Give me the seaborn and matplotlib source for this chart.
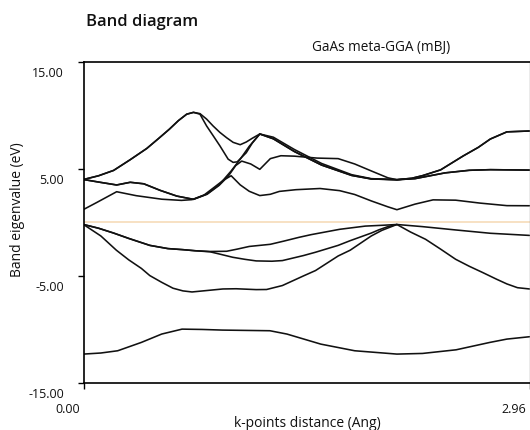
import numpy as np
import pandas as pd
import matplotlib
matplotlib.use("Agg")
import matplotlib.pyplot as plt
import seaborn as sns
from matplotlib.transforms import ScaledTranslation

# ---------------- data ----------------
title = "Band diagram"
subtitle = "GaAs meta-GGA (mBJ)"
x_label = "k-points distance (Ang)"
y_label = "Band eigenvalue (eV)"
x_ticks = [0.0, 2.96]
x_tick_labels = ["0.00", "2.96"]
y_ticks = [15, 5, -5, -15]
y_tick_labels = ["15.00", "5.00", "-5.00", "-15.00"]
fermi_level = 0.0

# conduction bands
c1_k = [0, 0.09, 0.22, 0.35, 0.52, 0.65, 0.72, 0.80, 0.87, 0.93, 0.98, 1.04, 1.10, 1.17, 1.24, 1.30, 1.41, 1.57, 1.70, 1.80, 1.91, 2.02, 2.08, 2.20, 2.32, 2.47, 2.63, 2.81, 2.96]
c1_e = [1.2, 1.87, 2.86, 2.49, 2.16, 2.05, 2.12, 2.55, 3.3, 3.95, 4.35, 3.5, 2.9, 2.5, 2.62, 2.89, 3.05, 3.16, 2.96, 2.6, 2.0, 1.45, 1.18, 1.7, 2.1, 2.07, 1.8, 1.56, 1.55]

c2_k = [0, 0.11, 0.22, 0.31, 0.40, 0.51, 0.62, 0.73, 0.82, 0.90, 0.98, 1.04, 1.10, 1.17, 1.26, 1.40, 1.58, 1.78, 1.91, 2.08, 2.18, 2.25, 2.37, 2.52, 2.62, 2.70, 2.81, 2.96]
c2_e = [4.0, 3.74, 3.49, 3.74, 3.6, 2.98, 2.45, 2.15, 2.65, 3.5, 4.8, 5.9, 7.1, 8.25, 7.8, 6.62, 5.35, 4.38, 4.05, 3.98, 4.12, 4.36, 4.9, 6.2, 7.0, 7.78, 8.45, 8.53]

c3_k = [0, 0.11, 0.22, 0.31, 0.40, 0.51, 0.62, 0.73, 0.82, 0.90, 0.96, 1.01, 1.05, 1.11, 1.17, 1.24, 1.31, 1.40, 1.55, 1.69, 1.80, 1.91, 2.02, 2.08, 2.20, 2.40, 2.56, 2.70, 2.96]
c3_e = [4.0, 3.74, 3.49, 3.74, 3.6, 2.98, 2.45, 2.15, 2.62, 3.45, 4.3, 5.3, 5.72, 5.45, 4.95, 5.95, 6.22, 6.18, 6.0, 5.95, 5.45, 4.8, 4.16, 3.98, 4.08, 4.62, 4.86, 4.92, 4.88]

c4_k = [0, 0.10, 0.20, 0.31, 0.42, 0.50, 0.57, 0.63, 0.685, 0.73, 0.773, 0.817, 0.86, 0.905, 0.96, 0.993, 1.02, 1.08, 1.12, 1.17, 1.26, 1.40, 1.58, 1.78, 1.91, 2.08, 2.20, 2.40, 2.56, 2.70, 2.96]
c4_e = [4.0, 4.35, 4.85, 5.85, 6.9, 7.85, 8.7, 9.5, 10.1, 10.27, 10.1, 9.0, 8.1, 7.15, 5.9, 5.6, 5.65, 6.5, 7.4, 8.25, 7.8, 6.6, 5.35, 4.38, 4.05, 3.98, 4.08, 4.62, 4.86, 4.92, 4.88]

c5_k = [0, 0.10, 0.20, 0.31, 0.42, 0.50, 0.57, 0.63, 0.685, 0.73, 0.773, 0.817, 0.86, 0.905, 0.95, 0.993, 1.04, 1.08, 1.12, 1.17, 1.26, 1.40, 1.58, 1.78, 1.91, 2.08, 2.18, 2.25, 2.37, 2.52, 2.62, 2.70, 2.81, 2.96]
c5_e = [4.0, 4.35, 4.85, 5.85, 6.9, 7.85, 8.7, 9.5, 10.1, 10.27, 10.15, 9.64, 9.0, 8.4, 7.9, 7.47, 7.25, 7.5, 7.85, 8.25, 7.95, 6.8, 5.5, 4.45, 4.08, 3.98, 4.12, 4.36, 4.9, 6.2, 7.0, 7.78, 8.45, 8.53]

# valence bands
v1_k = [0, 0.10, 0.20, 0.30, 0.44, 0.56, 0.66, 0.74, 0.84, 0.95, 1.02, 1.10, 1.24, 1.33, 1.43, 1.51, 1.70, 1.87, 1.99, 2.08, 2.25, 2.47, 2.70, 2.96]
v1_e = [-0.2, -0.55, -1.0, -1.5, -2.15, -2.45, -2.55, -2.65, -2.72, -2.7, -2.5, -2.25, -2.05, -1.75, -1.4, -1.15, -0.65, -0.35, -0.27, -0.2, -0.4, -0.71, -1.02, -1.22]

v2_k = [0, 0.10, 0.20, 0.30, 0.44, 0.56, 0.66, 0.74, 0.84, 0.90, 0.99, 1.07, 1.146, 1.25, 1.32, 1.46, 1.54, 1.69, 1.77, 1.91, 1.96, 2.02, 2.08, 2.17, 2.27, 2.37, 2.47, 2.56, 2.65, 2.74, 2.81, 2.88, 2.96]
v2_e = [-0.2, -0.55, -1.0, -1.5, -2.15, -2.45, -2.55, -2.65, -2.75, -2.95, -3.26, -3.45, -3.6, -3.63, -3.57, -3.1, -2.79, -2.15, -1.71, -1.0, -0.7, -0.4, -0.2, -0.9, -1.58, -2.5, -3.45, -4.1, -4.69, -5.3, -5.75, -6.1, -6.22]

v3_k = [0, 0.115, 0.218, 0.30, 0.384, 0.44, 0.519, 0.594, 0.66, 0.72, 0.83, 0.925, 1.013, 1.146, 1.215, 1.32, 1.46, 1.54, 1.69, 1.77, 1.91, 1.98, 2.08]
v3_e = [-0.2, -1.27, -2.6, -3.5, -4.3, -4.97, -5.6, -6.15, -6.4, -6.5, -6.35, -6.22, -6.2, -6.28, -6.27, -5.9, -5.0, -4.5, -3.14, -2.6, -1.27, -0.75, -0.2]

v4_k = [0, 0.115, 0.227, 0.384, 0.519, 0.654, 0.788, 0.923, 1.237, 1.35, 1.575, 1.8, 2.08, 2.25, 2.473, 2.697, 2.81, 2.96]
v4_e = [-12.3, -12.2, -11.99, -11.21, -10.43, -9.97, -10.0, -10.06, -10.12, -10.43, -11.37, -11.99, -12.3, -12.24, -11.9, -11.21, -10.9, -10.68]

band_names = ["c1", "c2", "c3", "c4", "c5", "v1", "v2", "v3", "v4"]
band_k = [c1_k, c2_k, c3_k, c4_k, c5_k, v1_k, v2_k, v3_k, v4_k]
band_e = [c1_e, c2_e, c3_e, c4_e, c5_e, v1_e, v2_e, v3_e, v4_e]

df = pd.concat(
    [pd.DataFrame({"band": n, "k": k, "E": e}) for n, k, e in zip(band_names, band_k, band_e)],
    ignore_index=True,
)

# ---------------- figure ----------------
sns.set_theme(style="white")
plt.rcParams["font.family"] = ["Open Sans", "DejaVu Sans"]

W, H = 530, 431
fig = plt.figure(figsize=(W / 100, H / 100), dpi=100)
ax = fig.add_axes([83.5 / W, 1 - 384 / H, 446 / W, 321.3 / H])

ax.axhline(fermi_level, color="#f5d8b3", lw=1.1, zorder=1)
sns.lineplot(data=df, x="k", y="E", units="band", estimator=None, sort=False,
             color="#111111", lw=1.15, ax=ax, legend=False, zorder=2)

ax.set_xlim(0, 2.96)
ax.set_ylim(-15, 15)

for s in ["left", "top", "bottom"]:
    ax.spines[s].set_color("black")
    ax.spines[s].set_linewidth(1.2)
ax.spines["right"].set_color("#9a9a9a")
ax.spines["right"].set_linewidth(1.0)

ax.set_xticks(x_ticks)
ax.set_xticklabels(x_tick_labels)
ax.set_yticks(y_ticks)
ax.set_yticklabels(y_tick_labels)
ax.tick_params(axis="both", bottom=True, left=True, direction="out", length=4,
               width=1, color="black", labelsize=9, labelcolor="#111111")
ax.tick_params(axis="x", pad=10)
ax.tick_params(axis="y", pad=10)

for lab in ax.get_xticklabels():
    lab.set_ha("right")
    lab.set_transform(lab.get_transform() + ScaledTranslation(-3 / 100, 0, fig.dpi_scale_trans))
for lab in ax.get_yticklabels():
    lab.set_transform(lab.get_transform() + ScaledTranslation(0, -9 / 100, fig.dpi_scale_trans))

ax.set_xlabel(x_label, fontsize=10, color="#111111")
ax.xaxis.set_label_coords(0.502, -0.100)
ax.set_ylabel(y_label, fontsize=10, color="#111111")
ax.yaxis.set_label_coords(-0.131, 0.543)

fig.text(86 / W, 1 - 26 / H, title, fontsize=12, fontweight="semibold",
         ha="left", va="baseline", color="#111111")
fig.text(381.5 / W, 1 - 51.5 / H, subtitle, fontsize=9.8,
         ha="center", va="baseline", color="#111111")

fig.savefig("out.png", dpi=100)
